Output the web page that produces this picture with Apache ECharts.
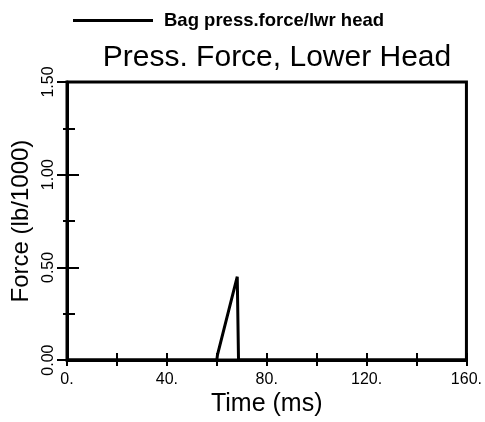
<!DOCTYPE html>
<html>
<head>
<meta charset="utf-8">
<script src="https://cdn.jsdelivr.net/npm/echarts@6/dist/echarts.min.js"></script>
<style>
  html, body { margin: 0; padding: 0; background: #fff; overflow: hidden; }
  #chart { width: 485px; height: 422px; }
</style>
</head>
<body>
<div id="chart"></div>
<script>
// Bag pressure force on the lower head over time
const timeMs = [0, 60.0, 60.3, 68.2, 68.7, 160];
const forceKlb = [0, 0, 0.03, 0.45, 0.0, 0];
const seriesName = 'Bag press.force/lwr head';
const yTicks = [0, 0.5, 1.0, 1.5];
const xTicks = [0, 40, 80, 120, 160];

const FONT = '"Liberation Sans", Arial, Helvetica, sans-serif';
const points = timeMs.map((t, i) => [t, forceKlb[i]]);

const chart = echarts.init(document.getElementById('chart'));

const xBase = {
  type: 'value', min: xTicks[0], max: xTicks[xTicks.length - 1], interval: 40,
  splitLine: { show: false }
};
const yBase = {
  type: 'value', min: yTicks[0], max: yTicks[yTicks.length - 1], interval: 0.5,
  splitLine: { show: false }
};

chart.setOption({
  animation: false,
  backgroundColor: '#fff',
  title: {
    text: 'Press. Force, Lower Head',
    left: 272, textAlign: 'center', top: 38,
    textStyle: { fontFamily: FONT, fontSize: 30, fontWeight: 'normal', color: '#000' }
  },
  legend: {
    data: [{ name: seriesName, icon: 'rect' }],
    left: 68, top: 6,
    itemWidth: 80, itemHeight: 3, itemGap: 10,
    textStyle: { fontFamily: FONT, fontSize: 18.5, fontWeight: 'bold', color: '#000', padding: [0, 0, 0, 6] }
  },
  grid: {
    left: 67, right: 12, top: 82, bottom: 59,
    show: true, borderColor: '#000', borderWidth: 3
  },
  xAxis: [
    Object.assign({}, xBase, {
      name: 'Time (ms)', nameLocation: 'middle', nameGap: 28,
      nameTextStyle: { fontFamily: FONT, fontSize: 25, color: '#000' },
      axisLine: { lineStyle: { color: '#000', width: 3 } },
      axisTick: { length: 6, lineStyle: { color: '#000', width: 2 } },
      minorTick: { show: true, splitNumber: 2, length: 6, lineStyle: { color: '#000', width: 2 } },
      axisLabel: {
        fontFamily: FONT, fontSize: 16, color: '#000', margin: 11,
        formatter: v => v + '.'
      }
    }),
    Object.assign({}, xBase, {
      position: 'bottom',
      axisLine: { show: false },
      axisTick: { inside: true, length: 7, lineStyle: { color: '#000', width: 2 } },
      minorTick: { show: true, splitNumber: 2, length: 7, lineStyle: { color: '#000', width: 2 } },
      axisLabel: { show: false }
    })
  ],
  yAxis: [
    Object.assign({}, yBase, {
      name: 'Force (lb/1000)', nameLocation: 'middle', nameGap: 32,
      nameTextStyle: { fontFamily: FONT, fontSize: 24, color: '#000' },
      axisLine: { lineStyle: { color: '#000', width: 3 } },
      axisTick: { length: 10, lineStyle: { color: '#000', width: 2 } },
      minorTick: { show: true, splitNumber: 2, length: 4, lineStyle: { color: '#000', width: 2 } },
      axisLabel: {
        fontFamily: FONT, fontSize: 16, color: '#000', rotate: 90, margin: 10,
        formatter: v => v.toFixed(2)
      }
    }),
    Object.assign({}, yBase, {
      position: 'left',
      axisLine: { show: false },
      axisTick: { inside: true, length: 12, lineStyle: { color: '#000', width: 2 } },
      minorTick: { show: true, splitNumber: 2, length: 8, lineStyle: { color: '#000', width: 2 } },
      axisLabel: { show: false }
    })
  ],
  series: [{
    name: seriesName,
    type: 'line',
    data: points,
    showSymbol: false,
    lineStyle: { color: '#000', width: 3 },
    itemStyle: { color: '#000' },
    z: 5
  }]
});
</script>
</body>
</html>
